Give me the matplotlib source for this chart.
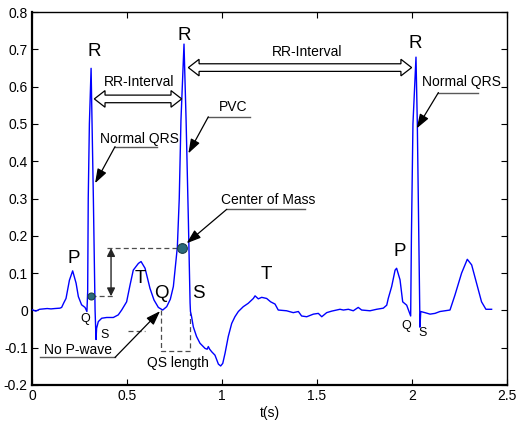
"""ECG trace with PVC annotations (RR interval, QS length, center of mass)."""
import matplotlib
matplotlib.use("Agg")
import matplotlib.pyplot as plt
from matplotlib.patches import Polygon

plt.rcParams['font.family'] = ['Liberation Sans', 'DejaVu Sans']

# --- ECG samples: time (s) and amplitude ---
t = [0.0, 0.02, 0.04, 0.06, 0.08, 0.1, 0.12, 0.147, 0.156, 0.167, 0.179, 0.197,
     0.214, 0.232, 0.244, 0.261, 0.279, 0.289, 0.293, 0.296, 0.302, 0.311, 0.316,
     0.323, 0.332, 0.337, 0.340, 0.349, 0.367, 0.393, 0.428, 0.454, 0.472, 0.498,
     0.516, 0.533, 0.56, 0.574, 0.595, 0.621, 0.642, 0.665, 0.688, 0.709, 0.728,
     0.744, 0.758, 0.765, 0.775, 0.784, 0.8, 0.811, 0.823, 0.832, 0.834, 0.84,
     0.849, 0.866, 0.884, 0.911, 0.922, 0.928, 0.935, 0.946, 0.963, 0.981, 0.993,
     1.004, 1.016, 1.033, 1.051, 1.068, 1.086, 1.112, 1.138, 1.165, 1.174, 1.191,
     1.209, 1.235, 1.256, 1.279, 1.296, 1.34, 1.375, 1.402, 1.419, 1.446, 1.481,
     1.507, 1.525, 1.551, 1.577, 1.621, 1.639, 1.665, 1.691, 1.717, 1.735, 1.779,
     1.814, 1.849, 1.867, 1.875, 1.893, 1.911, 1.919, 1.937, 1.951, 1.972, 1.993,
     1.997, 2.005, 2.021, 2.028, 2.036, 2.042, 2.046, 2.068, 2.095, 2.121, 2.147,
     2.2, 2.226, 2.261, 2.291, 2.314, 2.34, 2.366, 2.389, 2.419]
v = [0.002, -0.002, 0.003, 0.004, 0.005, 0.004, 0.005, 0.006, 0.008, 0.02, 0.032,
     0.081, 0.106, 0.073, 0.037, 0.015, 0.008, -0.003, 0.05, 0.3, 0.5, 0.649,
     0.5, 0.3, 0.0, -0.078, -0.048, -0.03, -0.021, -0.019, -0.019, -0.012, 0.001,
     0.023, 0.068, 0.108, 0.126, 0.131, 0.113, 0.059, 0.028, 0.008, 0.001, 0.01,
     0.03, 0.064, 0.135, 0.17, 0.3, 0.51, 0.714, 0.51, 0.242, 0.02, -0.003,
     -0.017, -0.044, -0.07, -0.088, -0.102, -0.104, -0.097, -0.104, -0.111, -0.12,
     -0.144, -0.149, -0.142, -0.115, -0.07, -0.035, -0.017, -0.003, 0.01, 0.019,
     0.032, 0.039, 0.031, 0.035, 0.032, 0.023, 0.017, 0.001, -0.001, -0.006,
     -0.003, -0.015, -0.017, -0.01, -0.008, -0.017, -0.006, -0.002, 0.003, 0.001,
     0.003, -0.001, 0.008, 0.001, -0.001, 0.003, 0.006, 0.014, 0.032, 0.064,
     0.108, 0.113, 0.082, 0.023, 0.014, -0.015, 0.2, 0.5, 0.679, 0.5, 0.2, -0.045,
     -0.003, -0.006, -0.01, -0.008, -0.003, 0.001, 0.041, 0.1, 0.137, 0.122,
     0.073, 0.023, 0.003, 0.003]

# annotation anchors (t, v)
q_dot = (0.311, 0.038)
com_dot = (0.79, 0.167)
wave_labels = [("R", 0.328, 0.695), ("R", 0.802, 0.738), ("R", 2.016, 0.716),
               ("P", 0.221, 0.138), ("T", 0.568, 0.086), ("Q", 0.679, 0.044),
               ("S", 0.875, 0.044), ("T", 1.232, 0.095), ("P", 1.933, 0.157)]
small_labels = [("Q", 0.279, -0.024), ("S", 0.381, -0.066),
                ("Q", 1.972, -0.042), ("S", 2.054, -0.061)]
# (text, text centre, underline x-range, underline y, arrow tip)
callouts = [("Normal QRS", (0.565, 0.459), (0.437, 0.656), 0.439, (0.332, 0.341), 'left'),
            ("PVC", (1.06, 0.545), (0.928, 1.147), 0.519, (0.823, 0.421), 'left'),
            ("Normal QRS", (2.261, 0.613), (2.139, 2.349), 0.584, (2.025, 0.488), 'left'),
            ("Center of Mass", (1.245, 0.296), (1.025, 1.437), 0.271, (0.814, 0.18), 'left'),
            ("No P-wave", (0.244, -0.106), (0.042, 0.437), -0.126, (0.674, -0.002), 'right')]
rr_arrows = [("RR-Interval", (0.565, 0.613), 0.328, 0.788, 0.567),
             ("RR-Interval", (1.446, 0.692), 0.823, 1.998, 0.651)]
qs_label = ("QS length", 0.77, -0.142)

W, H = 520, 426
fig = plt.figure(figsize=(W / 100, H / 100), dpi=100)
ax = fig.add_axes([32 / W, 1 - 385 / H, 475 / W, 373 / H])
xlim, ylim = (0, 2.5), (-0.2, 0.8)
px_x = 475 / (xlim[1] - xlim[0])
px_y = 373 / (ylim[1] - ylim[0])

ax.plot(t, v, color='#0000ff', lw=1.0, zorder=3)

# dashed helpers
dash = dict(color='0.3', lw=0.9, ls=(0, (4, 2.5)), zorder=2)
ax.plot([q_dot[0], 0.437], [q_dot[1], q_dot[1]], **dash)
ax.plot([0.393, com_dot[0]], [com_dot[1], com_dot[1]], **dash)
ax.plot([0.679, 0.679, 0.833, 0.833], [0.0, -0.108, -0.108, -0.008], **dash)
ax.plot([0.507, 0.595], [-0.055, -0.055], **dash)
ax.annotate("", xy=(0.416, q_dot[1]), xytext=(0.416, com_dot[1]),
            arrowprops=dict(arrowstyle='<|-|>', color='0.15', lw=1.0,
                            mutation_scale=12, shrinkA=0, shrinkB=0))
ax.text(qs_label[1], qs_label[2], qs_label[0], fontsize=10, ha='center', va='center')

ax.plot(*q_dot, 'o', ms=5, mfc='#2b6a7a', mec='#1d3f48', mew=0.8, zorder=5)
ax.plot(*com_dot, 'o', ms=7, mfc='#2b6a7a', mec='#1d3f48', mew=0.8, zorder=5)

for s, x, y in wave_labels:
    ax.text(x, y, s, fontsize=13.5, ha='center', va='center')
for s, x, y in small_labels:
    ax.text(x, y, s, fontsize=9, ha='center', va='center')

for s, (tx, ty), (u0, u1), uy, tip, side in callouts:
    ax.text(tx, ty, s, fontsize=10, ha='center', va='center')
    ax.plot([u0, u1], [uy, uy], color='0.35', lw=1.0)
    start = (u0, uy) if side == 'left' else (u1, uy)
    ax.annotate("", xy=tip, xytext=start,
                arrowprops=dict(arrowstyle='-|>,head_length=0.72,head_width=0.25',
                                color='k', lw=0.9, mutation_scale=12,
                                shrinkA=0, shrinkB=0))

# hollow double-headed block arrows
sh, hh, hl = 3.8 / px_y, 8.3 / px_y, 10.7 / px_x
for s, (tx, ty), x0, x1, y in rr_arrows:
    pts = [(x0, y), (x0 + hl, y + hh), (x0 + hl, y + sh), (x1 - hl, y + sh),
           (x1 - hl, y + hh), (x1, y), (x1 - hl, y - hh), (x1 - hl, y - sh),
           (x0 + hl, y - sh), (x0 + hl, y - hh)]
    ax.add_patch(Polygon(pts, closed=True, fc='white', ec='k', lw=0.9, zorder=4))
    ax.text(tx, ty, s, fontsize=10, ha='center', va='center')

ax.set_xlim(*xlim)
ax.set_ylim(*ylim)
ax.set_xticks([0, 0.5, 1, 1.5, 2, 2.5])
ax.set_xticklabels(['0', '0.5', '1', '1.5', '2', '2.5'])
ax.set_yticks([-0.2, -0.1, 0, 0.1, 0.2, 0.3, 0.4, 0.5, 0.6, 0.7, 0.8])
ax.set_yticklabels(['-0.2', '-0.1', '0', '0.1', '0.2', '0.3', '0.4', '0.5',
                    '0.6', '0.7', '0.8'])
ax.tick_params(direction='in', length=4, top=True, right=True, labelsize=10, pad=3)
for side in ['left', 'bottom']:
    ax.spines[side].set_linewidth(1.6)
for side in ['top', 'right']:
    ax.spines[side].set_linewidth(1.0)
ax.set_xlabel("t(s)", fontsize=10, labelpad=2)

fig.savefig("out.png", dpi=100)
